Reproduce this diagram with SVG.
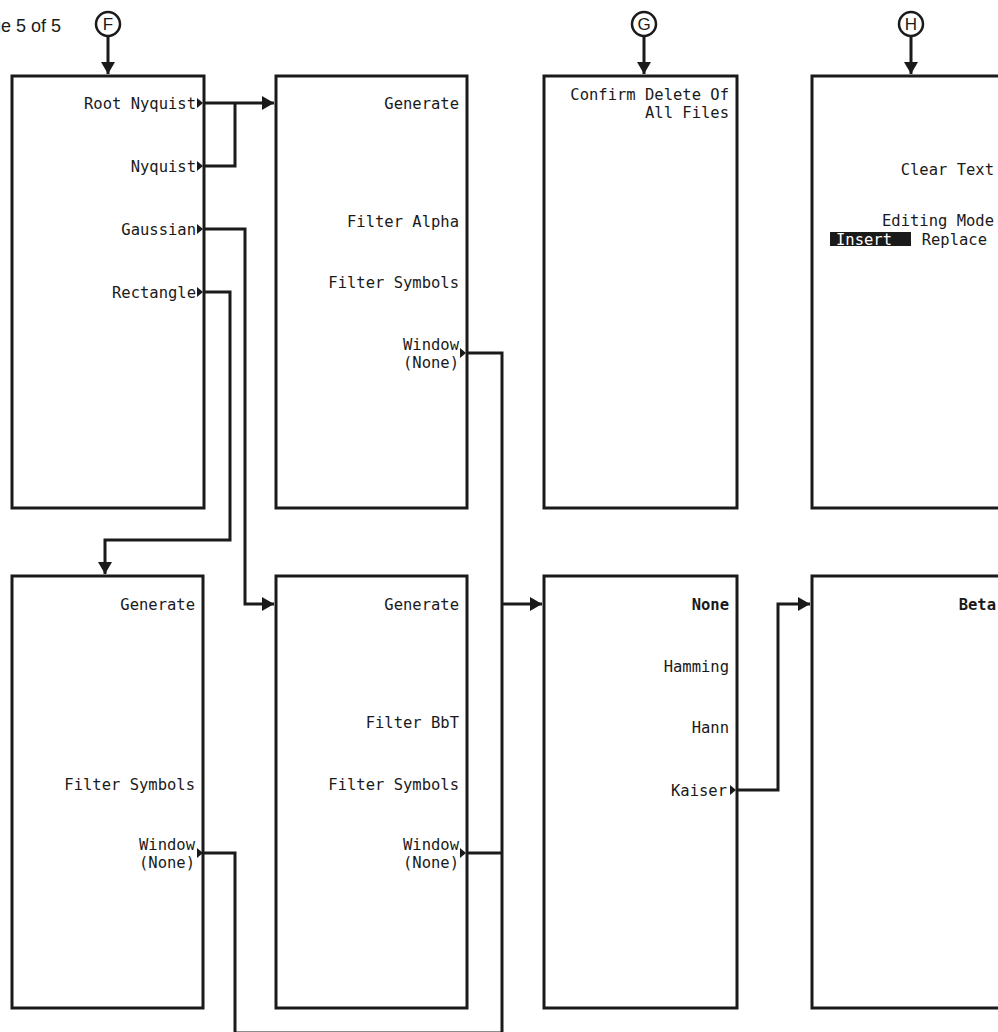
<svg xmlns="http://www.w3.org/2000/svg" width="998" height="1032" viewBox="0 0 998 1032">
<style>
.box{fill:#fff;stroke:#1a1a1a;stroke-width:3}
.t{font-family:"DejaVu Sans Mono","Liberation Mono",monospace;font-size:15.5px;fill:#1a1a1a;text-anchor:end}
.b{font-weight:bold}
.w{fill:#fff;text-anchor:start}
.c{fill:none;stroke:#1a1a1a;stroke-width:3;stroke-linejoin:miter}
.circ{fill:#fff;stroke:#1a1a1a;stroke-width:2.5}
.cl{font-family:"Liberation Sans",Arial,sans-serif;font-size:17px;fill:#1a1a1a;text-anchor:middle}
.pg{font-family:"Liberation Sans",Arial,sans-serif;font-size:18px;fill:#1a1a1a;text-anchor:end}
</style>
<defs>
<marker id="ah" markerUnits="userSpaceOnUse" markerWidth="14" markerHeight="14" refX="12" refY="7" orient="auto">
<path d="M0,0 L12,7 L0,14 z" fill="#1a1a1a"/>
</marker>
<path id="tri" d="M-7,-5 L-1,0 L-7,5 z" fill="#1a1a1a"/>
</defs>
<rect width="998" height="1032" fill="#fff"/>
<text class="pg" x="61" y="32">Page 5 of 5</text>

<g id="connectors">
<path class="c" d="M108,37 V74" marker-end="url(#ah)"/>
<path class="c" d="M644,37 V74" marker-end="url(#ah)"/>
<path class="c" d="M911,37 V74" marker-end="url(#ah)"/>
<path class="c" d="M204,103 H274" marker-end="url(#ah)"/>
<path class="c" d="M204,166 H235 V103"/>
<path class="c" d="M204,229 H245 V604 H274" marker-end="url(#ah)"/>
<path class="c" d="M204,292 H230 V540 H105 V574" marker-end="url(#ah)"/>
<path class="c" d="M467,353 H502 V1034"/>
<path class="c" d="M502,604 H542" marker-end="url(#ah)"/>
<path class="c" d="M467,853 H502"/>
<path class="c" d="M204,853 H235 V1033 H502"/>
<path class="c" d="M737,790 H778 V604 H810" marker-end="url(#ah)"/>
</g>

<g id="circleF"><circle class="circ" cx="108" cy="24" r="12"/><text class="cl" x="108" y="30">F</text></g>
<g id="circleG"><circle class="circ" cx="644" cy="24" r="12"/><text class="cl" x="644" y="30">G</text></g>
<g id="circleH"><circle class="circ" cx="911" cy="24" r="12"/><text class="cl" x="911" y="30">H</text></g>

<g id="box1">
<rect class="box" x="12" y="76" width="192" height="432"/>
<text class="t" x="196" y="109">Root Nyquist</text><use href="#tri" x="204" y="103"/>
<text class="t" x="196" y="172">Nyquist</text><use href="#tri" x="204" y="166"/>
<text class="t" x="196" y="235">Gaussian</text><use href="#tri" x="204" y="229"/>
<text class="t" x="196" y="298">Rectangle</text><use href="#tri" x="204" y="292"/>
</g>

<g id="box2">
<rect class="box" x="276" y="76" width="191" height="432"/>
<text class="t" x="459" y="109">Generate</text>
<text class="t" x="459" y="227">Filter Alpha</text>
<text class="t" x="459" y="288">Filter Symbols</text>
<text class="t" x="459" y="349.5">Window<tspan x="459" dy="18.5">(None)</tspan></text><use href="#tri" x="467" y="353"/>
</g>

<g id="box3">
<rect class="box" x="544" y="76" width="193" height="432"/>
<text class="t" x="729" y="99.5">Confirm Delete Of<tspan x="729" dy="18.5">All Files</tspan></text>
</g>

<g id="box4">
<rect class="box" x="812" y="76" width="192" height="432"/>
<text class="t" x="994" y="175">Clear Text</text>
<text class="t" x="994" y="226">Editing Mode</text>
<rect x="830" y="232" width="81" height="14" fill="#1a1a1a"/>
<text class="t w" x="836" y="245">Insert</text>
<text class="t" x="987" y="245">Replace</text>
</g>

<g id="box5">
<rect class="box" x="12" y="576" width="191" height="432"/>
<text class="t" x="195" y="610">Generate</text>
<text class="t" x="195" y="790">Filter Symbols</text>
<text class="t" x="195" y="849.5">Window<tspan x="195" dy="18.5">(None)</tspan></text><use href="#tri" x="204" y="853"/>
</g>

<g id="box6">
<rect class="box" x="276" y="576" width="191" height="432"/>
<text class="t" x="459" y="610">Generate</text>
<text class="t" x="459" y="728">Filter BbT</text>
<text class="t" x="459" y="790">Filter Symbols</text>
<text class="t" x="459" y="849.5">Window<tspan x="459" dy="18.5">(None)</tspan></text><use href="#tri" x="467" y="853"/>
</g>

<g id="box7">
<rect class="box" x="544" y="576" width="193" height="432"/>
<text class="t b" x="729" y="610">None</text>
<text class="t" x="729" y="672">Hamming</text>
<text class="t" x="729" y="733">Hann</text>
<text class="t" x="727" y="796">Kaiser</text><use href="#tri" x="737" y="790"/>
</g>

<g id="box8">
<rect class="box" x="812" y="576" width="193" height="432"/>
<text class="t b" x="996" y="610">Beta</text>
</g>
</svg>
